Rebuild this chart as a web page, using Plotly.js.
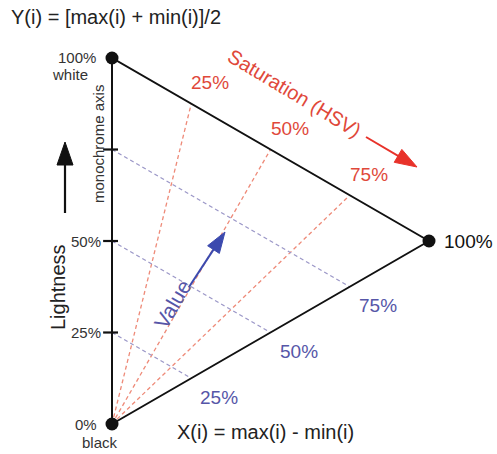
<!DOCTYPE html>
<html>
<head>
<meta charset="utf-8">
<script src="https://cdn.plot.ly/plotly-3.0.1.min.js"></script>
<style>html,body{margin:0;padding:0;background:#fff;}#chart{width:497px;height:454px;}</style>
</head>
<body>
<div id="chart"></div>
<script>
// ---- data ----
const levels = [0.25, 0.5, 0.75];
const levelLabels = ['25%', '50%', '75%'];
const vertexX = [0, 0, 1];
const vertexY = [0, 1, 0.5];
const axisTickLevels = [0.25, 0.5, 0.75];
const axisTickLabels = ['25%', '50%'];
const topLabel = ['100%', 'white'];
const bottomLabel = ['0%', 'black'];
const fullSatLabel = '100%';

// ---- pixel helpers for decorations ----
const X0 = 112, Y0 = 424, SX = 317, SY = 366;
const dx = p => (p - X0) / SX;
const dy = p => (Y0 - p) / SY;

const FONT = 'Liberation Sans, Arial, sans-serif';
const RED_TXT = '#e0483a', BLUE_TXT = '#5656a8';
const RED_DASH = '#ee8a78', BLUE_DASH = '#9c98c8';

// saturation lines (red): black -> top edge point (s, 1 - s/2)
const satX = [], satY = [];
levels.forEach(s => { satX.push(0, s, null); satY.push(0, 1 - s / 2, null); });
// value lines (blue): axis (0, v) -> bottom edge point (v, v/2)
const valX = [], valY = [];
levels.forEach(v => { valX.push(0, v, null); valY.push(v, v / 2, null); });
// ticks on monochrome axis
const tickX = [], tickY = [];
axisTickLevels.forEach(t => { tickX.push(-0.028, 0.019, null); tickY.push(t, t, null); });

const traces = [
  {x: satX, y: satY, mode: 'lines', line: {color: RED_DASH, width: 1.3, dash: '4px,3px'}, hoverinfo: 'skip'},
  {x: valX, y: valY, mode: 'lines', line: {color: BLUE_DASH, width: 1.3, dash: '4px,3px'}, hoverinfo: 'skip'},
  {x: [vertexX[0], vertexX[1], vertexX[2], vertexX[0]], y: [vertexY[0], vertexY[1], vertexY[2], vertexY[0]],
   mode: 'lines', line: {color: '#111', width: 2}, hoverinfo: 'skip'},
  {x: tickX, y: tickY, mode: 'lines', line: {color: '#111', width: 2.2}, hoverinfo: 'skip'},
  {x: vertexX, y: vertexY, mode: 'markers', marker: {color: '#111', size: 13}, hoverinfo: 'skip'}
];

const ann = [];
function txt(text, x, y, o) {
  ann.push(Object.assign({text: text, x: x, y: y, xref: 'x', yref: 'y', showarrow: false,
    font: {family: FONT, size: 19, color: '#222'}}, o || {}));
}
const small = {family: FONT, size: 15, color: '#333'};
// red saturation labels
levels.forEach((s, i) => txt(levelLabels[i], s, 1 - s / 2, {xshift: 19, yshift: 21, font: {family: FONT, size: 19, color: RED_TXT}}));
// blue value labels
levels.forEach((v, i) => txt(levelLabels[i], v, v / 2, {xshift: 28, yshift: -19, font: {family: FONT, size: 19, color: BLUE_TXT}}));
// axis labels
txt(axisTickLabels[0], 0, axisTickLevels[0], {xanchor: 'right', xshift: -9, font: small});
txt(axisTickLabels[1], 0, axisTickLevels[1], {xanchor: 'right', xshift: -9, font: small});
txt(topLabel[0], 0, 1, {xshift: -35, yshift: 1, font: small});
txt(topLabel[1], 0, 1, {xshift: -42, yshift: -16, font: small});
txt(bottomLabel[0], 0, 0, {xshift: -26, yshift: 0, font: small});
txt(bottomLabel[1], 0, 0, {xshift: -12, yshift: -18, font: small});
txt(fullSatLabel, 1, 0.5, {xanchor: 'left', xshift: 13, font: {family: FONT, size: 19, color: '#111'}});
txt('monochrome axis', dx(98), dy(144), {textangle: -90, font: small});
txt('Lightness', dx(58), dy(287), {textangle: -90, font: {family: FONT, size: 20, color: '#222'}});
txt('Saturation (HSV)', dx(294), dy(93), {textangle: 31, font: {family: FONT, size: 20, color: RED_TXT}});
txt('Value', dx(172), dy(304), {textangle: -60, font: {family: FONT, size: 21, color: BLUE_TXT}});
txt('X(i) = max(i) - min(i)', dx(265), dy(432), {font: {family: FONT, size: 20, color: '#222'}});
txt('Y(i) = [max(i) + min(i)]/2', dx(9), dy(17), {xanchor: 'left', font: {family: FONT, size: 20, color: '#222'}});

// arrows drawn as shaft line + triangular head (pixel-sized path)
const shapes = [];
function arrow(tx, ty, hx, hy, color, lw, hl, hw) {
  const ux = hx - tx, uy = -(hy - ty);
  const L = Math.hypot(ux, uy), nx = ux / L, ny = uy / L;
  const bx = hx - (hx - tx) / L * (hl - 2), by = hy - (hy - ty) / L * (hl - 2);
  shapes.push({type: 'line', xref: 'x', yref: 'y', x0: dx(tx), y0: dy(ty), x1: dx(bx), y1: dy(by),
    line: {color: color, width: lw}});
  const cx = -nx * hl, cy = -ny * hl, px = -ny * hw / 2, py = nx * hw / 2;
  const path = 'M0,0 L' + (cx + px).toFixed(2) + ',' + (cy + py).toFixed(2) +
    ' L' + (cx - px).toFixed(2) + ',' + (cy - py).toFixed(2) + ' Z';
  shapes.push({type: 'path', xref: 'x', yref: 'y', xsizemode: 'pixel', ysizemode: 'pixel',
    xanchor: dx(hx), yanchor: dy(hy), path: path, fillcolor: color, line: {color: color, width: 1}});
}
arrow(366, 137, 417, 167, '#e8322a', 2, 22, 15);
arrow(189, 287, 225, 232, '#3c4aae', 2, 21, 14);
arrow(65, 213, 65, 142, '#111', 2.2, 23, 16);

const layout = {
  width: 497, height: 454,
  margin: {l: 0, r: 0, t: 0, b: 0},
  paper_bgcolor: '#fff', plot_bgcolor: '#fff',
  showlegend: false,
  xaxis: {range: [dx(0), dx(497)], visible: false, fixedrange: true},
  yaxis: {range: [dy(454), dy(0)], visible: false, fixedrange: true},
  annotations: ann,
  shapes: shapes
};
Plotly.newPlot('chart', traces, layout, {staticPlot: true, displayModeBar: false});
</script>
</body>
</html>
